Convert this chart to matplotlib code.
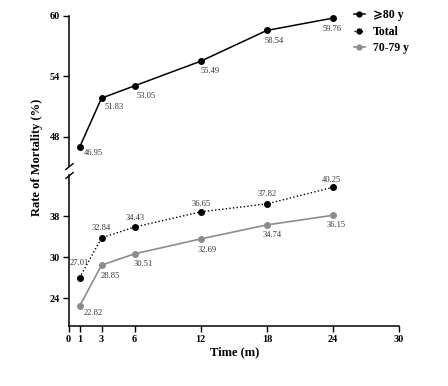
import matplotlib
matplotlib.use("Agg")
from matplotlib import pyplot as plt
from matplotlib.lines import Line2D

plt.rcParams['font.family'] = ['Liberation Serif', 'DejaVu Sans']

months = [1, 3, 6, 12, 18, 24]
over80 = [46.95, 51.83, 53.05, 55.49, 58.54, 59.76]
total = [27.01, 32.84, 34.43, 36.65, 37.82, 40.25]
age70_79 = [22.82, 28.85, 30.51, 32.69, 34.74, 36.15]

x_ticks = [0, 1, 3, 6, 12, 18, 24, 30]
upper_ticks = [48, 54, 60]
lower_ticks = [24, 30, 36]
lower_tick_labels = ["24", "30", "38"]

# label offsets in pixels (dx, dy)
off_80 = [(14, -6), (13, -9), (12, -10), (9, -10), (7, -11), (-1, -11)]
off_total = [(0, 15), (0, 10), (1, 9), (0, 8), (0, 10), (-1, 7)]
off_70 = [(14, -7), (9, -11), (9, -10), (6, -11), (5, -10), (3, -10)]

W, H = 448, 386
fig = plt.figure(figsize=(W / 100, H / 100), dpi=100)

def frac(x0, y_top, x1, y_bot):
    return [x0 / W, 1 - y_bot / H, (x1 - x0) / W, (y_bot - y_top) / H]

ax_up = fig.add_axes(frac(68.5, 15.7, 399, 166))
ax_lo = fig.add_axes(frac(68.5, 175, 399, 326), sharex=ax_up)

gray = "#8c8c8c"
ms = 4.0

ax_up.plot(months, over80, color="black", lw=1.1, marker="o", ms=ms, clip_on=False)
ax_lo.plot(months, total, color="black", lw=1.0, ls=(0, (1, 1.6)), marker="o", ms=ms, clip_on=False)
ax_lo.plot(months, age70_79, color=gray, lw=1.2, marker="o", ms=ms, clip_on=False)

lab_kw = dict(textcoords="offset pixels", ha="center", va="center", fontsize=6.1, color="#333333")
for x, y, o in zip(months, over80, off_80):
    ax_up.annotate(f"{y:.2f}", (x, y), xytext=o, **lab_kw)
for x, y, o in zip(months, total, off_total):
    ax_lo.annotate(f"{y:.2f}", (x, y), xytext=o, **lab_kw)
for x, y, o in zip(months, age70_79, off_70):
    ax_lo.annotate(f"{y:.2f}", (x, y), xytext=o, **lab_kw)

ax_up.set_xlim(0, 30)
ax_up.set_ylim(45.1, 60)
ax_lo.set_ylim(19.94, 42.05)

ax_up.set_yticks(upper_ticks)
ax_lo.set_yticks(lower_ticks)
ax_lo.set_yticklabels(lower_tick_labels)
ax_lo.set_xticks(x_ticks)

for ax in (ax_up, ax_lo):
    ax.spines['top'].set_visible(False)
    ax.spines['right'].set_visible(False)
    ax.spines['left'].set_linewidth(1.1)
    ax.spines['bottom'].set_linewidth(1.1)
    ax.tick_params(width=1.0, length=4, labelsize=7.4, pad=2)
    for t in ax.get_yticklabels() + ax.get_xticklabels():
        t.set_fontweight("bold")
    ax.patch.set_alpha(0)

ax_up.spines['bottom'].set_visible(False)
ax_up.tick_params(axis='x', bottom=False, labelbottom=False)
ax_lo.tick_params(axis='x', length=4.5)

# break marks on the y spine
brk = dict(marker=[(-1, -0.8), (1, 0.8)], markersize=6, linestyle="none",
           color="black", mec="black", mew=1.0, clip_on=False)
ax_up.plot([0], [0], transform=ax_up.transAxes, **brk)
ax_lo.plot([0], [1], transform=ax_lo.transAxes, **brk)

fig.text(37 / W, 1 - 157 / H, "Rate of Mortality (%)", rotation=90, ha="center",
         va="center", fontsize=9, fontweight="bold")
fig.text(235 / W, 1 - 352 / H, "Time (m)", ha="center", va="center",
         fontsize=9, fontweight="bold")

handles = [
    Line2D([], [], color="black", lw=1.1, marker="o", ms=3.5),
    Line2D([], [], color="black", lw=1.0, ls=(0, (1, 1.6)), marker="o", ms=3.5),
    Line2D([], [], color=gray, lw=1.2, marker="o", ms=3.5),
]
labels = ["⩾80 y", "Total", "70-79 y"]
leg = fig.legend(handles, labels, loc="upper left", bbox_to_anchor=(354 / W, 1 - 9 / H),
                 frameon=False, handlelength=0.9, handletextpad=0.7, labelspacing=0.4,
                 borderpad=0, borderaxespad=0, prop=dict(weight="bold", size=8.5))

fig.savefig("out.png", dpi=100)
